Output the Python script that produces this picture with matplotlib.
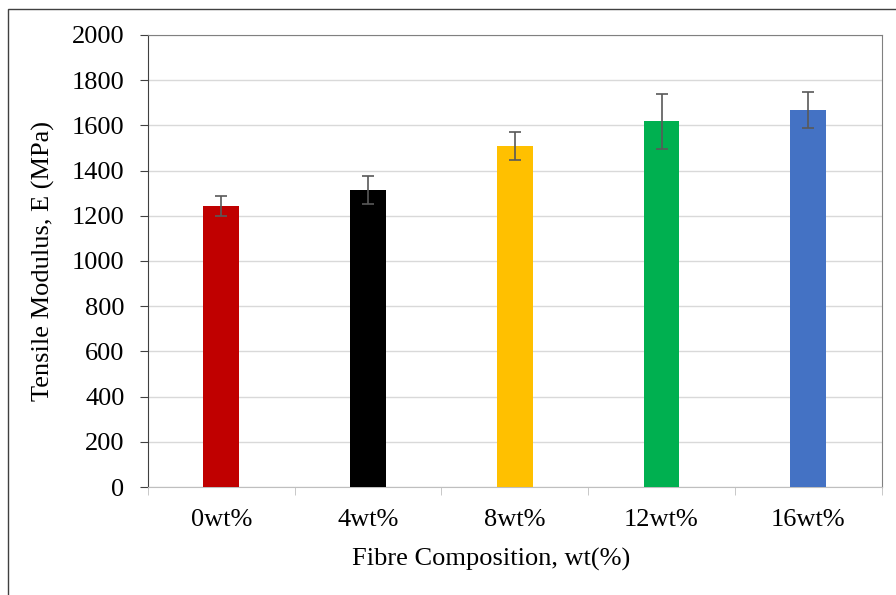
import numpy as np
import matplotlib.pyplot as plt
from matplotlib.patches import Rectangle

# data
labels = ['0wt%', '4wt%', '8wt%', '12wt%', '16wt%']
modulus = [1242, 1313, 1509, 1619, 1668]
err = [44, 62, 63, 122, 78]
colors = ['#c00000', '#000000', '#ffc000', '#00b050', '#4472c4']

plt.rcParams['font.family'] = ['Liberation Serif', 'DejaVu Serif']

fig = plt.figure(figsize=(8.96, 5.95), dpi=100)
ax = fig.add_axes([0.165, 0.1815, 0.819, 0.7597])

x = np.arange(len(labels))
ax.bar(x, modulus, width=0.245, color=colors, zorder=3)
ax.errorbar(x, modulus, yerr=err, fmt='none', ecolor='#595959', elinewidth=1.2,
            capsize=4, capthick=1.2, zorder=4)

ax.set_xlim(-0.5, len(labels) - 0.5)
ax.set_ylim(0, 2000)
ax.set_yticks(np.arange(0, 2001, 200))
ax.set_xticks(x)
ax.set_xticklabels(labels)
ax.set_xticks(np.arange(-0.5, len(labels), 1), minor=True)
ax.tick_params(axis='x', which='major', length=0, labelsize=19, pad=16)
ax.tick_params(axis='x', which='minor', length=6, color='#bfbfbf')
ax.tick_params(axis='y', labelsize=19, length=5.8, color='#404040', pad=11)
ax.grid(axis='y', color='#d9d9d9', linewidth=1, zorder=0)

ax.spines['top'].set_color('#808080')
ax.spines['right'].set_color('#808080')
ax.spines['left'].set_color('#404040')
ax.spines['bottom'].set_color('#bfbfbf')

ax.set_xlabel('Fibre Composition, wt(%)', fontsize=19, labelpad=14)
ax.xaxis.set_label_coords(0.468, -0.135)
ax.set_ylabel('Tensile Modulus, E (MPa)', fontsize=19, labelpad=12)

# outer frame around the figure
fig.patches.append(Rectangle((8 / 896, -0.1), 1.2, 1 - 9 / 595 + 0.1,
                             transform=fig.transFigure, fill=False,
                             edgecolor='#404040', linewidth=1))

fig.savefig('out.png', dpi=100)
